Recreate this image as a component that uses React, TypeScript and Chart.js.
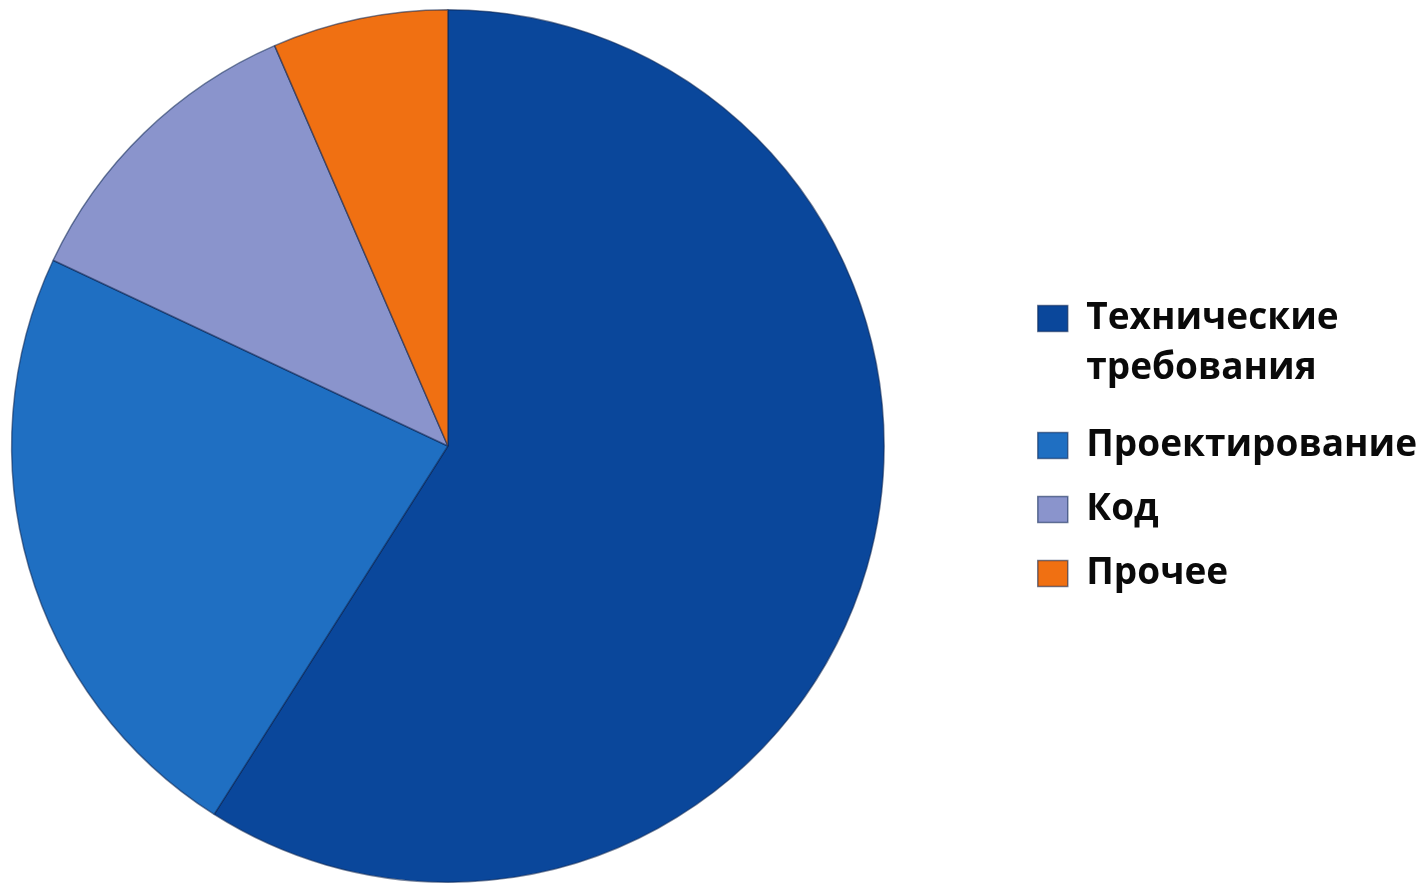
import React, { useEffect, useRef } from "react";
import { Chart, registerables } from "chart.js";

Chart.register(...registerables);

const categories: (string | string[])[] = [
  ["Технические", "требования"],
  "Проектирование",
  "Код",
  "Прочее",
];
const shares: number[] = [59, 23, 11.5, 6.5];
const sliceColors: string[] = ["#0a479b", "#1f6fc2", "#8a94cc", "#f07012"];

const SHIFT = 115;
const W = 1427 + SHIFT;
const H = 887;

export default function App() {
  const ref = useRef<HTMLCanvasElement | null>(null);

  useEffect(() => {
    if (!ref.current) return;
    const chart = new Chart(ref.current, {
      type: "pie",
      data: {
        labels: categories as any,
        datasets: [
          {
            data: shares,
            backgroundColor: sliceColors,
            borderColor: "rgba(10,35,80,0.55)",
            borderWidth: 1.5,
          },
        ],
      },
      options: {
        responsive: false,
        animation: false,
        layout: { padding: { left: 0, top: 9, bottom: 4, right: 0 } },
        plugins: {
          tooltip: { enabled: false },
          legend: {
            position: "right",
            labels: {
              color: "#0a0a0a",
              boxWidth: 30,
              boxHeight: 26,
              padding: 27,
              font: { family: "'Open Sans', sans-serif", size: 37, weight: "bold", lineHeight: 1.35 },
            },
          },
        },
      },
    });
    return () => chart.destroy();
  }, []);

  return (
    <div style={{ position: "fixed", left: 0, top: 0, width: 1427, height: H, overflow: "hidden", background: "#fff" }}>
      <canvas
        ref={ref}
        width={W}
        height={H}
        style={{ display: "block", position: "absolute", left: -SHIFT, top: 0 }}
      />
    </div>
  );
}
